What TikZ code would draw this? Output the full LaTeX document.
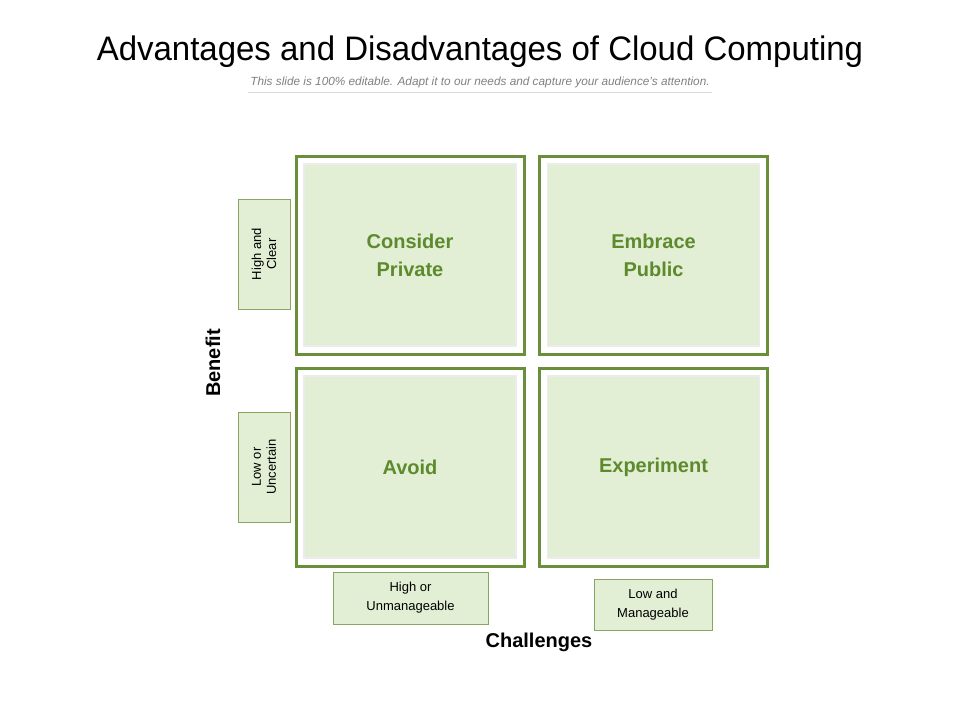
\documentclass[tikz,border=0pt]{standalone}
\usepackage{fontspec}
\setmainfont{Liberation Sans}
\definecolor{frameg}{HTML}{6A8F3A}
\definecolor{fillg}{HTML}{E2EFD4}
\definecolor{textg}{HTML}{5E8A2E}
\tikzset{
  quad/.style={draw=frameg,line width=3pt,minimum width=228pt,minimum height=198pt,inner sep=0pt},
  inner/.style={draw=gray!15,line width=1.5pt,fill=fillg,minimum width=212pt,minimum height=182pt,inner sep=0pt,
    font=\fontsize{20}{28}\selectfont\bfseries,text=textg,align=center},
  tag/.style={draw=frameg!80,line width=0.8pt,fill=fillg,inner sep=0pt,align=center,
    font=\fontsize{13}{19}\selectfont},
  axis/.style={font=\fontsize{20}{24}\selectfont\bfseries}
}
\begin{document}
\begin{tikzpicture}[x=1pt,y=-1pt]
\useasboundingbox (0,0) rectangle (960,720);
\node[font=\fontsize{34}{40}\selectfont,xscale=0.97] (title) at (480,52) {Advantages and Disadvantages of Cloud Computing};
\node[font=\fontsize{11.8}{13}\selectfont\itshape,text=gray] (sub) at (480,82) {This slide is 100\% editable. Adapt it to our needs and capture your audience's attention.};
\draw[gray!30,line width=0.6pt] (248,92) -- (712,92);
% quadrants
\node[quad] (tl) at (410,255) {};
\node[quad] (tr) at (653.5,255) {};
\node[quad] (bl) at (410,467) {};
\node[quad] (br) at (653.5,467) {};
\node[inner] (tlin) at (tl) {Consider\\Private};
\node[inner] (trin) at (tr) {Embrace\\Public};
\node[inner] (blin) at (bl) {Avoid};
\node[inner] (brin) at (br) {Experiment};
% tags
\node[tag,minimum width=52pt,minimum height=110pt] (high) at (264,254) {};
\node[rotate=90,font=\fontsize{13}{15}\selectfont,align=center] at (high) {High and\\Clear};
\node[tag,minimum width=52pt,minimum height=110pt] (low) at (264,467) {};
\node[rotate=90,font=\fontsize{13}{15}\selectfont,align=center] at (low) {Low or\\Uncertain};
\node[tag,minimum width=155pt,minimum height=52pt] (hard) at (410.5,598) {High or\\Unmanageable};
\node[tag,minimum width=118pt,minimum height=51pt] (easy) at (653,604.5) {Low and\\Manageable};
\node[axis,rotate=90] (benefit) at (213,363) {Benefit};
\node[axis] (chall) at (539,642) {Challenges};
\end{tikzpicture}
\end{document}
